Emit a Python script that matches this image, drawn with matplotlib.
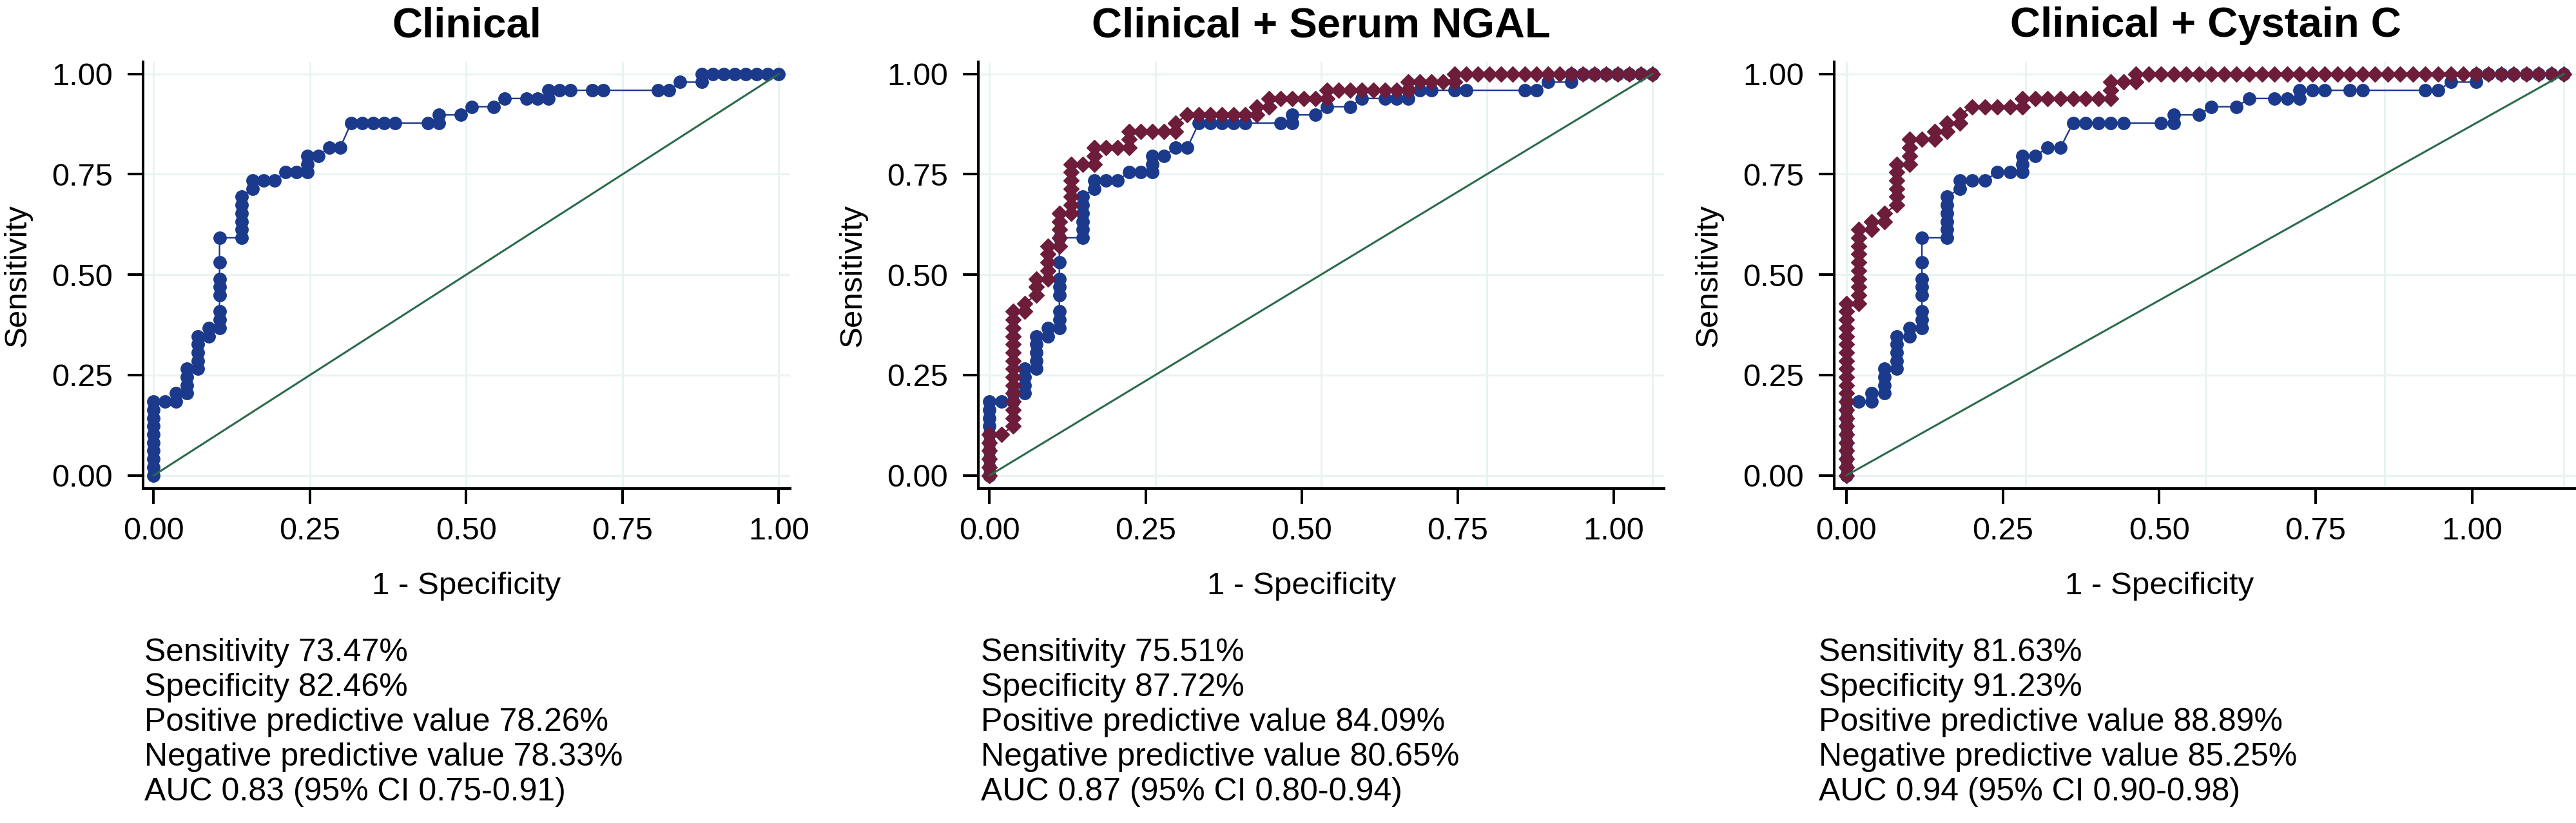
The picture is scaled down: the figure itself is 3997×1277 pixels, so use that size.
import matplotlib
matplotlib.use("Agg")
import matplotlib.pyplot as plt
import matplotlib.transforms as mtransforms

plt.rcParams["font.family"] = ["Liberation Sans", "DejaVu Sans"]

# 57 controls / 49 cases -> ROC steps
n_neg = 57
n_pos = 49

# clinical model (blue circles), same curve in every panel
fp_clin = [0, 0, 0, 0, 0, 0, 0, 0, 0, 0,
           1, 2, 2, 3, 3, 3, 3, 4, 4, 4, 4, 4, 5, 5,
           6, 6, 6, 6, 6, 6, 6, 6,
           8, 8, 8, 8, 8, 8, 9, 9, 10, 11, 12, 13, 14, 14, 14, 15, 16, 17,
           18, 19, 20, 21, 22, 25, 26, 26, 28, 29, 31, 32, 34, 35, 36, 36,
           37, 38, 40, 41, 46, 47, 48, 50, 50, 51, 52, 53, 54, 55, 56, 57]
tp_clin = [0, 1, 2, 3, 4, 5, 6, 7, 8, 9,
           9, 9, 10, 10, 11, 12, 13, 13, 14, 15, 16, 17, 17, 18,
           18, 19, 20, 22, 23, 24, 26, 29,
           29, 30, 31, 32, 33, 34, 35, 36, 36, 36, 37, 37, 37, 38, 39, 39, 40, 40,
           43, 43, 43, 43, 43, 43, 43, 44, 44, 45, 45, 46, 46, 46, 46, 47,
           47, 47, 47, 47, 47, 47, 48, 48, 49, 49, 49, 49, 49, 49, 49, 49]

# clinical + serum NGAL (maroon diamonds)
fp_ngal = [0, 0, 0, 0, 0, 0, 1,
           2, 2, 2, 2, 2, 2, 2, 2, 2, 2, 2, 2, 2, 2, 2,
           3, 3, 4, 4, 4, 5, 5, 5, 5, 5, 6, 6, 6, 6, 6,
           7, 7, 7, 7, 7, 7, 7, 8, 9, 9, 9, 10, 11, 12, 12, 12,
           13, 14, 15, 16, 16, 17, 18, 19, 20, 21, 22, 23, 23, 24, 24,
           25, 26, 27, 28, 29, 29, 30, 31, 32, 33, 34, 35, 36, 36, 37, 38, 39, 40, 40,
           41, 42, 43, 44, 45, 46, 47, 48, 49, 50, 51, 52, 53, 54, 55, 56, 57]
tp_ngal = [0, 1, 2, 3, 4, 5, 5,
           6, 7, 8, 9, 10, 11, 12, 13, 14, 15, 16, 17, 18, 19, 20,
           20, 21, 22, 23, 24, 24, 25, 26, 27, 28, 28, 29, 30, 31, 32,
           32, 33, 34, 35, 36, 37, 38, 38, 38, 39, 40, 40, 40, 40, 41, 42,
           42, 42, 42, 42, 43, 44, 44, 44, 44, 44, 44, 44, 45, 45, 46,
           46, 46, 46, 46, 46, 47, 47, 47, 47, 47, 47, 47, 47, 48, 48, 48, 48, 48, 49,
           49, 49, 49, 49, 49, 49, 49, 49, 49, 49, 49, 49, 49, 49, 49, 49, 49]

# clinical + cystatin C (maroon diamonds)
fp_cys = [0, 0, 0, 0, 0, 0, 0, 0, 0, 0, 0, 0, 0, 0, 0, 0, 0, 0, 0, 0, 0, 0,
          1, 1, 1, 1, 1, 1, 1, 1, 1, 1,
          2, 2, 3, 3, 4, 4, 4, 4, 4, 4, 5, 5, 5, 5,
          6, 7, 7, 8, 8, 9, 9, 10, 11, 12, 13, 14, 14,
          15, 16, 17, 18, 19, 20, 21, 21, 21, 22, 23, 23,
          24, 25, 26, 27, 28, 29, 30, 31, 32, 33, 34, 35, 36, 37, 38, 39, 40,
          41, 42, 43, 44, 45, 46, 47, 48, 49, 50, 51, 52, 53, 54, 55, 56, 57]
tp_cys = [0, 1, 2, 3, 4, 5, 6, 7, 8, 9, 10, 11, 12, 13, 14, 15, 16, 17, 18, 19, 20, 21,
          21, 22, 23, 24, 25, 26, 27, 28, 29, 30,
          30, 31, 31, 32, 33, 34, 35, 36, 37, 38, 38, 39, 40, 41,
          41, 41, 42, 42, 43, 43, 44, 45, 45, 45, 45, 45, 46,
          46, 46, 46, 46, 46, 46, 46, 47, 48, 48, 48, 49,
          49, 49, 49, 49, 49, 49, 49, 49, 49, 49, 49, 49, 49, 49, 49, 49, 49,
          49, 49, 49, 49, 49, 49, 49, 49, 49, 49, 49, 49, 49, 49, 49, 49, 49]

titles = ["Clinical", "Clinical + Serum NGAL", "Clinical + Cystain C"]
tick_vals = [0, 0.25, 0.5, 0.75, 1.0]
tick_labels = ["0.00", "0.25", "0.50", "0.75", "1.00"]

stats_clin = ["Sensitivity 73.47%", "Specificity 82.46%",
              "Positive predictive value 78.26%", "Negative predictive value 78.33%",
              "AUC 0.83 (95% CI 0.75-0.91)"]
stats_ngal = ["Sensitivity 75.51%", "Specificity 87.72%",
              "Positive predictive value 84.09%", "Negative predictive value 80.65%",
              "AUC 0.87 (95% CI 0.80-0.94)"]
stats_cys = ["Sensitivity 81.63%", "Specificity 91.23%",
             "Positive predictive value 88.89%", "Negative predictive value 85.25%",
             "AUC 0.94 (95% CI 0.90-0.98)"]

blue = "#1b3a8c"
maroon = "#6d1c39"
green = "#2b6b4c"
grid_c = "#e8f4f1"

W, H = 3997, 1277
fig = plt.figure(figsize=(W / 100, H / 100), dpi=100)


def fx(p):
    return p / W


def fy(p):
    return 1 - p / H


def draw_panel(left, unit, k, text_x, title, stats, red=None):
    # left spine pixel, pixels per unit of the curve, stretch of the tick labels
    width = 1.035 * unit
    ax = fig.add_axes([fx(left), fy(758), width / W, (758 - 96) / H])
    ax.set_xlim(-0.017, 1.018)
    ax.set_ylim(-0.0327, 1.030)

    ax.set_xticks(tick_vals)
    ax.set_yticks(tick_vals)
    ax.set_yticklabels(tick_labels)
    ax.grid(True, color=grid_c, lw=2.2)
    ax.set_axisbelow(True)
    ax.tick_params(axis="x", length=0, labelbottom=False)
    ax.tick_params(axis="y", length=17, width=2.9, pad=17, labelsize=35)

    for s in ["top", "right"]:
        ax.spines[s].set_visible(False)
    for s in ["left", "bottom"]:
        ax.spines[s].set_linewidth(2.9)

    sec = ax.secondary_xaxis("bottom", functions=(lambda g: g * k, lambda t: t / k))
    sec.set_xticks(tick_vals, tick_labels)
    sec.tick_params(length=17, width=2.9, pad=15, labelsize=35)
    sec.spines["bottom"].set_linewidth(2.9)

    x = [v / n_neg for v in fp_clin]
    y = [v / n_pos for v in tp_clin]
    ax.plot(x, y, "-o", color=blue, ms=14, lw=1.7, zorder=3, clip_on=False)
    if red is not None:
        xr = [v / n_neg for v in red[0]]
        yr = [v / n_pos for v in red[1]]
        ax.plot(xr, yr, "-D", color=maroon, ms=12.5, lw=1.7, zorder=4, clip_on=False)
    ax.plot([0, 1], [0, 1], color=green, lw=2.2, zorder=5)

    cx = left + width / 2
    fig.text(fx(cx), fy(57.5), title, ha="center", va="baseline",
             fontsize=47, fontweight="bold")
    fig.text(fx(left - 195), fy(427), "Sensitivity", rotation=90,
             ha="center", va="center", fontsize=35.5)
    trans = mtransforms.blended_transform_factory(ax.transData, fig.transFigure)
    ax.text(0.5 / k, fy(922), "1 - Specificity", transform=trans,
            ha="center", va="baseline", fontsize=35.5)

    for i, s in enumerate(stats):
        fig.text(fx(text_x), fy(1026 + i * 54), s, va="baseline", fontsize=36)


draw_panel(222, 970, 1.0, 224, titles[0], stats_clin)
draw_panel(1518, 1028.5, 1.0619, 1522, titles[1], stats_ngal, (fp_ngal, tp_ngal))
draw_panel(2846, 1113.4, 1.1469, 2822, titles[2], stats_cys, (fp_cys, tp_cys))

fig.savefig("out.png", dpi=100)
